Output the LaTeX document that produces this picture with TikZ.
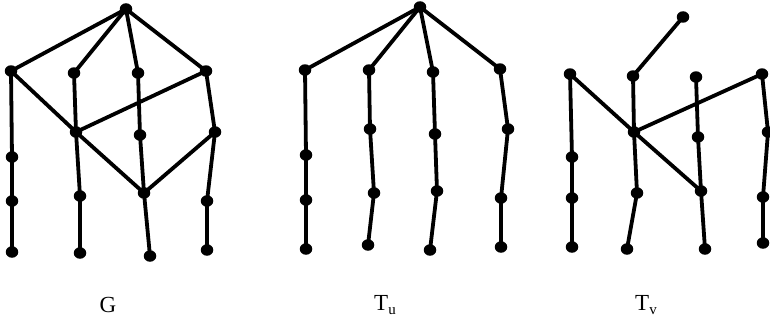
\documentclass[tikz,border=0pt]{standalone}
\usepackage{fontspec}
\setmainfont{Liberation Serif}
\usetikzlibrary{shapes.geometric}
\begin{document}
\begin{tikzpicture}[x=1pt,y=-1pt,
  dot/.style={ellipse,fill=black,inner sep=0pt,minimum width=12.5pt,minimum height=11.5pt},
  edge/.style={line width=3.8pt,line cap=round},
  lbl/.style={font=\fontsize{23}{23}\selectfont,inner sep=0pt}]
\useasboundingbox (0,0) rectangle (770,321);
% ---------- G ----------
\foreach \n/\x/\y in {u/126/9, a1/11/71, a2/74/73, a3/138/73, a4/206/71,
  b1/76/132, b3/140/135, b4/215/132, c1/12/157, d1/12/201, e1/12/252,
  c2/80/196, e2/80/253, c3/144/193, e3/150/256, c4/207/201, e4/207/250}
  \node[dot] (g\n) at (\x,\y) {};
\foreach \p/\q in {u/a1,u/a2,u/a3,u/a4,a1/b1,a1/c1,c1/d1,d1/e1,a2/b1,b1/c2,c2/e2,
  a4/b1,b1/c3,a3/b3,b3/c3,c3/e3,a4/b4,b4/c3,b4/c4,c4/e4}
  \draw[edge] (g\p.center) -- (g\q.center);
% ---------- T_u ----------
\foreach \n/\x/\y in {r/420/7, a1/305/70, b1/306/155, c1/306/200, d1/306/249,
  a2/369/70, b2/370/129, c2/374/193, d2/368/245,
  a3/433/72, b3/435/134, c3/437/191, d3/430/250,
  a4/500/69, b4/508/129, c4/501/198, d4/501/247}
  \node[dot] (t\n) at (\x,\y) {};
\foreach \p/\q in {r/a1,r/a2,r/a3,r/a4,a1/b1,b1/c1,c1/d1,a2/b2,b2/c2,c2/d2,
  a3/b3,b3/c3,c3/d3,a4/b4,b4/c4,c4/d4}
  \draw[edge] (t\p.center) -- (t\q.center);
% ---------- T_v ----------
\foreach \n/\x/\y in {r/683/17, a1/570/74, b1/572/157, c1/572/198, d1/572/247,
  a2/633/76, m/634/132, c2/637/193, d2/627/249,
  a3/696/77, b3/698/137, c3/701/191, d3/705/249,
  a4/762/74, b4/768/132, c4/763/197, d4/763/243}
  \node[dot] (v\n) at (\x,\y) {};
\foreach \p/\q in {r/a2,a2/m,a1/m,a4/m,m/c3,m/c2,c2/d2,a1/b1,b1/c1,c1/d1,
  a3/b3,b3/c3,c3/d3,a4/b4,b4/c4,c4/d4}
  \draw[edge] (v\p.center) -- (v\q.center);
% ---------- labels ----------
\node[lbl] (lg) at (108,305) {G};
\node[lbl] (lu) at (385,305) {T\raisebox{-0.4ex}{\fontsize{15}{15}\selectfont u}};
\node[lbl] (lv) at (646,305) {T\raisebox{-0.4ex}{\fontsize{15}{15}\selectfont v}};
\end{tikzpicture}
\end{document}
